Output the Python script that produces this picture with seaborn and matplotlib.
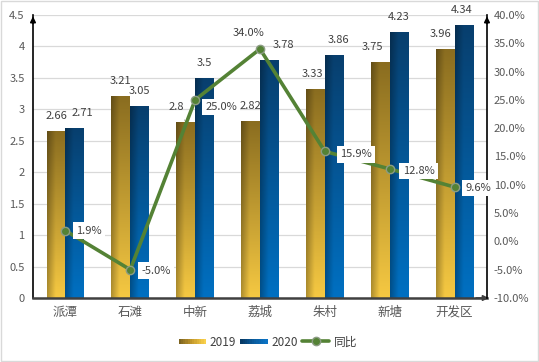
import numpy as np
import pandas as pd
import matplotlib
matplotlib.use("Agg")
import matplotlib.pyplot as plt
import seaborn as sns
from matplotlib.patches import Rectangle
from matplotlib.legend_handler import HandlerBase
from matplotlib.lines import Line2D
from matplotlib.colors import to_rgb

categories = ["派潭", "石滩", "中新", "荔城", "朱村", "新塘", "开发区"]
v2019 = [2.66, 3.21, 2.8, 2.82, 3.33, 3.75, 3.96]
v2020 = [2.71, 3.05, 3.5, 3.78, 3.86, 4.23, 4.34]
yoy = [1.9, -5.0, 25.0, 34.0, 15.9, 12.8, 9.6]
series = ["2019", "2020"]
left_ticks = [0, 0.5, 1, 1.5, 2, 2.5, 3, 3.5, 4, 4.5]
right_ticks = [-10, -5, 0, 5, 10, 15, 20, 25, 30, 35, 40]

sns.set_theme(style="white")
plt.rcParams['font.family'] = ['Noto Sans CJK SC', 'DejaVu Sans']
TXT = "#595959"
LBL = "#404040"

df = pd.DataFrame({
    "cat": categories * 2,
    "val": v2019 + v2020,
    "year": [series[0]] * len(categories) + [series[1]] * len(categories),
})

fig = plt.figure(figsize=(5.39, 3.62), dpi=100)
fig.patches.append(Rectangle((0.002, 0.003), 0.996, 0.994, transform=fig.transFigure,
                             fill=False, edgecolor="#d9d9d9", linewidth=1.0))
ax = fig.add_axes([0.0612, 0.1768, 0.8423, 0.7818])

sns.barplot(data=df, x="cat", y="val", hue="year", order=categories,
            hue_order=series, width=0.58, palette=["#c9a232", "#0a5a9c"],
            ax=ax, legend=False, saturation=1)

grad = {
    0: (["#7d6420", "#c59a2c", "#f9d04a"], ["#8a6d20", "#f5c842"]),
    1: (["#063a66", "#0a5c9e", "#0a72c4"], ["#083f6e", "#0070c2"]),
}

def make_grad(idx, h=60, w=20):
    top = np.array(to_rgb(grad[idx][1][0]))
    bot = np.array(to_rgb(grad[idx][1][1]))
    t = np.linspace(0, 1, h)[:, None, None]
    vert = top * (1 - t) + bot * t
    s = np.linspace(0, 1, w)[None, :, None]
    shade = 0.72 + 0.28 * np.clip(s * 2.2, 0, 1)
    return np.clip(vert * shade, 0, 1)

n = len(categories)
ax.set_xlim(-0.5, 6.5)
ax.set_ylim(0, 4.5)
for i, p in enumerate(ax.patches[:2 * n]):
    idx = 0 if i < n else 1
    x0, y0 = p.get_x(), p.get_y()
    w, h = p.get_width(), p.get_height()
    im = ax.imshow(make_grad(idx), extent=[x0, x0 + w, y0, y0 + h],
                   aspect="auto", zorder=2, origin="upper")
    im.set_clip_path(p)
    p.set_facecolor("none")
    p.set_edgecolor("none")
ax.set_xlim(-0.5, 6.5)
ax.set_ylim(0, 4.5)

ax.set_yticks(left_ticks)
ax.set_yticklabels([f"{t:g}" for t in left_ticks])
ax.tick_params(axis="y", labelsize=8, colors=TXT, length=0, pad=6)
ax.tick_params(axis="x", labelsize=9, colors=TXT, length=0, pad=6)
ax.set_xlabel("")
ax.set_ylabel("")
ax.yaxis.grid(True, color="#d9d9d9", linewidth=0.9)
ax.set_axisbelow(True)
for s in ["top", "right"]:
    ax.spines[s].set_visible(False)
ax.spines["left"].set_color("black")
ax.spines["left"].set_linewidth(1.2)
ax.spines["bottom"].set_color("#404040")
ax.spines["bottom"].set_linewidth(1.8)

# bar labels (pixel offsets)
offs19 = [0, 0, -9, 0, -3, -8, -5]
offs20 = [8, 0, 0, 14, 4, 0, -2]
bw = 0.29
for i in range(n):
    x19 = i - bw / 2
    x20 = i + bw / 2
    if i == 2:
        ax.annotate(f"{v2019[i]:g}", (x19, v2019[i]), xytext=(offs19[i], 15),
                    textcoords="offset pixels", ha="center", va="center", fontsize=8, color=LBL,
                    arrowprops=dict(arrowstyle="-", color="#a6a6a6", lw=0.7,
                                    shrinkA=4, shrinkB=1))
    else:
        ax.annotate(f"{v2019[i]:g}", (x19, v2019[i]), xytext=(offs19[i], 15),
                    textcoords="offset pixels", ha="center", va="center", fontsize=8, color=LBL)
    ax.annotate(f"{v2020[i]:g}", (x20, v2020[i]), xytext=(offs20[i], 15),
                textcoords="offset pixels", ha="center", va="center", fontsize=8, color=LBL)

ax2 = ax.twinx()
ax2.set_position(ax.get_position())
ax2.plot(range(n), yoy, color="#548235", linewidth=2.6, marker="o", markersize=6,
         markerfacecolor="#548235", markeredgecolor="#8c9c84", markeredgewidth=1, zorder=5)
ax2.set_ylim(-10, 40)
ax2.set_xlim(-0.5, 6.5)
ax2.set_yticks(right_ticks)
ax2.set_yticklabels([f"{t:.1f}%" for t in right_ticks])
ax2.tick_params(axis="y", labelsize=8, colors=TXT, length=0, pad=5)
for s in ["top", "left", "bottom"]:
    ax2.spines[s].set_visible(False)
ax2.spines["right"].set_color("black")
ax2.spines["right"].set_linewidth(1.2)
ax2.grid(False)

lab_off = [(11, 0), (11, -1), (10, -7), (-11, 16), (15, -3), (13, -2), (11, -1)]
for i in range(n):
    dx, dy = lab_off[i]
    ha = "center" if i == 3 else "left"
    ax2.annotate(f"{yoy[i]:.1f}%", (i, yoy[i]), xytext=(dx, dy), textcoords="offset pixels",
                 ha=ha, va="center", fontsize=8, color=LBL,
                 bbox=dict(boxstyle="square,pad=0.3", fc="white", ec="none"), zorder=6)

# axis arrows
ax.annotate("", xy=(0, 1.005), xytext=(0, 0.96), xycoords="axes fraction",
            arrowprops=dict(arrowstyle="-|>", color="black", lw=1.2, mutation_scale=8))
ax.annotate("", xy=(1.0, 1.005), xytext=(1.0, 0.96), xycoords="axes fraction",
            arrowprops=dict(arrowstyle="-|>", color="black", lw=1.2, mutation_scale=8))
ax.annotate("", xy=(1.01, 0), xytext=(0.97, 0), xycoords="axes fraction",
            arrowprops=dict(arrowstyle="-|>", color="#404040", lw=1.2, mutation_scale=8))

class GradHandler(HandlerBase):
    def __init__(self, idx):
        super().__init__()
        self.idx = idx
    def create_artists(self, legend, orig_handle, xdescent, ydescent, width, height, fontsize, trans):
        c = [np.array(to_rgb(x)) for x in grad[self.idx][0]]
        arts = []
        steps = 12
        for k in range(steps):
            t = k / (steps - 1)
            if t < 0.5:
                col = c[0] * (1 - 2 * t) + c[1] * 2 * t
            else:
                col = c[1] * (2 - 2 * t) + c[2] * (2 * t - 1)
            r = Rectangle((-xdescent + width * k / steps, -ydescent + height * 0.2),
                          width / steps + 0.3, height * 0.6, facecolor=col, edgecolor="none",
                          transform=trans)
            arts.append(r)
        return arts

h19 = Rectangle((0, 0), 1, 1)
h20 = Rectangle((0, 1), 1, 1)
hl = Line2D([], [], color="#548235", linewidth=2.6, marker="o", markersize=6,
            markerfacecolor="#548235", markeredgecolor="#8c9c84")
fig.legend([h19, h20, hl], ["2019", "2020", "同比"], loc="center",
           bbox_to_anchor=(0.497, 0.055), ncol=3, frameon=False, fontsize=8.5,
           handler_map={h19: GradHandler(0), h20: GradHandler(1)},
           handlelength=2.3, columnspacing=0.35, handletextpad=0.35, labelcolor=LBL)

fig.savefig("out.png", dpi=100)
